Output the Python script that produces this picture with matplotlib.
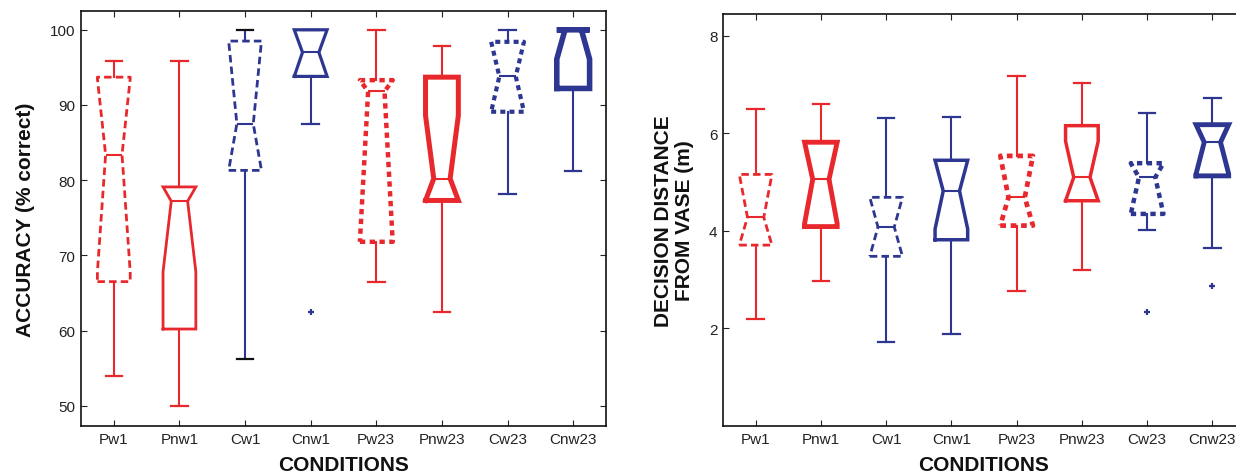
import matplotlib
matplotlib.use("Agg")
import matplotlib.pyplot as plt

plt.rcParams['font.family'] = ['Liberation Sans', 'DejaVu Sans']

conditions = ['Pw1', 'Pnw1', 'Cw1', 'Cnw1', 'Pw23', 'Pnw23', 'Cw23', 'Cnw23']

# Accuracy (% correct)
acc_whislo = [54.0, 50.0, 56.2, 87.5, 66.5, 62.5, 78.1, 81.2]
acc_q1 = [66.5, 60.2, 81.3, 93.8, 71.8, 77.3, 89.1, 92.2]
acc_cilo = [67.8, 67.8, 81.3, 93.8, 71.8, 77.3, 89.1, 96.1]
acc_med = [83.4, 77.2, 87.5, 97.0, 91.8, 80.2, 93.8, 100.0]
acc_cihi = [93.5, 79.1, 98.5, 100.0, 93.3, 88.6, 98.4, 100.0]
acc_q3 = [93.7, 79.1, 98.5, 100.0, 93.3, 93.7, 98.4, 100.0]
acc_whishi = [95.8, 95.8, 100.0, 100.0, 100.0, 97.8, 100.0, 100.0]
acc_fliers = [[], [], [], [62.4], [], [], [], []]

# Decision distance from vase (m)
dist_whislo = [2.19, 2.97, 1.72, 1.88, 2.77, 3.19, 4.01, 3.66]
dist_q1 = [3.71, 4.09, 3.48, 3.82, 4.11, 4.62, 4.35, 5.13]
dist_cilo = [3.71, 4.15, 3.48, 4.04, 4.11, 4.62, 4.35, 5.17]
dist_med = [4.28, 5.06, 4.08, 4.82, 4.69, 5.10, 5.10, 5.82]
dist_cihi = [5.16, 5.82, 4.69, 5.45, 5.54, 5.84, 5.39, 6.18]
dist_q3 = [5.16, 5.82, 4.69, 5.45, 5.54, 6.16, 5.39, 6.18]
dist_whishi = [6.51, 6.61, 6.31, 6.34, 7.17, 7.03, 6.42, 6.72]
dist_fliers = [[], [], [], [], [], [], [2.34], [2.87]]

RED = '#E8282C'
BLUE = '#2D3691'
colors = [RED, RED, BLUE, BLUE, RED, RED, BLUE, BLUE]
DASH = (0, (2.7, 1.5))
DOT = (0, (1.2, 1.0))
box_styles = [DASH, '-', DASH, '-', DOT, '-', DOT, '-']
acc_box_lw = [2.0, 2.0, 2.0, 2.3, 3.2, 3.6, 3.0, 4.0]
dist_box_lw = [2.0, 3.5, 2.0, 2.5, 3.4, 2.5, 3.2, 3.5]
acc_cap_colors = [RED, RED, '#111111', BLUE, RED, RED, BLUE, BLUE]
dist_cap_colors = colors


def make_stats(whislo, q1, cilo, med, cihi, q3, whishi, fliers):
    stats = []
    for i, lab in enumerate(conditions):
        stats.append(dict(label=lab, whislo=whislo[i], q1=q1[i], cilo=cilo[i],
                          med=med[i], cihi=cihi[i], q3=q3[i],
                          whishi=whishi[i], fliers=fliers[i]))
    return stats


def draw(ax, stats, box_lw, cap_colors):
    arts = ax.bxp(stats, positions=range(1, len(stats) + 1), widths=0.5,
                  capwidths=0.25, shownotches=True, showfliers=True,
                  manage_ticks=False)
    for i in range(len(stats)):
        c = colors[i]
        b = arts['boxes'][i]
        b.set_color(c)
        b.set_linestyle(box_styles[i])
        b.set_linewidth(box_lw[i])
        b.set_solid_joinstyle('miter')
        m = arts['medians'][i]
        m.set_color(c)
        m.set_linewidth(1.5)
        for w in arts['whiskers'][2 * i:2 * i + 2]:
            w.set_color(c)
            w.set_linewidth(1.5)
        for cp in arts['caps'][2 * i:2 * i + 2]:
            cp.set_color(cap_colors[i])
            cp.set_linewidth(1.6)
        f = arts['fliers'][i]
        f.set_marker('+')
        f.set_markeredgecolor(c)
        f.set_markersize(5)
        f.set_markeredgewidth(1.6)
        f.set_linestyle('none')


def style_axes(ax):
    ax.set_xticks(range(1, len(conditions) + 1))
    ax.set_xticklabels(conditions)
    ax.set_xlim(0.5, 8.5)
    ax.tick_params(direction='in', top=True, right=True, length=4, width=0.8,
                   labelsize=11, colors='#222222', pad=4)
    for s in ax.spines.values():
        s.set_linewidth(1.2)
        s.set_color('#111111')
    ax.set_xlabel('CONDITIONS', fontsize=15, fontweight='bold', color='#111111')
    ax.xaxis.set_label_coords(0.5, -0.07)


fig = plt.figure(figsize=(12.36, 4.77), dpi=100)
ax1 = fig.add_axes([81 / 1236, 50 / 477, 525 / 1236, 415 / 477])
ax2 = fig.add_axes([723 / 1236, 50 / 477, 522 / 1236, 412 / 477])

draw(ax1, make_stats(acc_whislo, acc_q1, acc_cilo, acc_med, acc_cihi, acc_q3,
                     acc_whishi, acc_fliers), acc_box_lw, acc_cap_colors)
style_axes(ax1)
ax1.set_ylim(47.3, 102.5)
ax1.set_yticks([50, 60, 70, 80, 90, 100])
ax1.set_ylabel('ACCURACY (% correct)', fontsize=15, fontweight='bold', color='#111111')
ax1.yaxis.set_label_coords(-0.088, 0.5)

draw(ax2, make_stats(dist_whislo, dist_q1, dist_cilo, dist_med, dist_cihi, dist_q3,
                     dist_whishi, dist_fliers), dist_box_lw, dist_cap_colors)
style_axes(ax2)
ax2.set_ylim(0, 8.45)
ax2.set_yticks([2, 4, 6, 8])
ax2.set_ylabel('DECISION DISTANCE\nFROM VASE (m)', fontsize=15, fontweight='bold',
               color='#111111', linespacing=1.15)
ax2.yaxis.set_label_coords(-0.055, 0.5)

fig.savefig('out.png', dpi=100)
